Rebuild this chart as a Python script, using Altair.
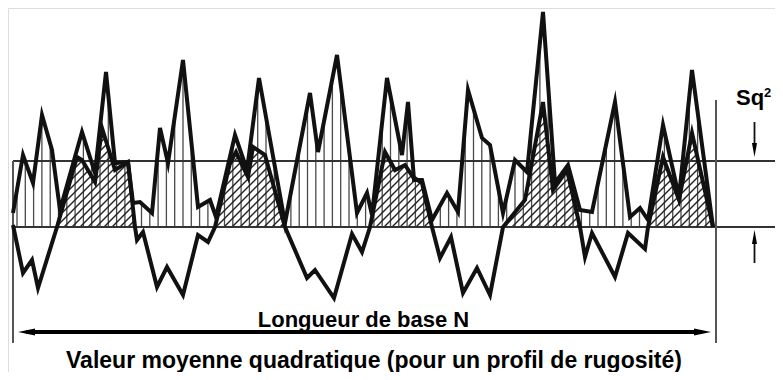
import altair as alt
import numpy as np
import pandas as pd

# Upper curve (squared profile): position along base length, height above mean line
u_x = [13, 23, 33, 42, 52, 60, 82, 95, 106, 115, 128, 133, 140, 152, 160, 168, 183, 198, 210, 216,
       235, 247, 259, 285, 310, 318, 337, 357, 367, 372, 387, 402, 408, 414, 422, 432, 447, 458, 468,
       482, 490, 503, 515, 527, 543, 555, 568, 580, 592, 615, 630, 640, 648, 663, 679, 692, 713]
u_z = [14, 72, 44, 112, 77, 17, 95, 54, 155, 64, 65, 24, 25, 14, 99, 64, 167, 20, 27, 10,
       92, 57, 149, 4, 134, 75, 172, 14, 34, 12, 149, 72, 125, 47, 47, 7, 34, 15, 137,
       89, 82, 14, 67, 55, 215, 44, 62, 17, 15, 125, 10, 19, 7, 102, 30, 157, 0]

# Roughness profile
p_x = [13, 23, 32, 38, 57, 77, 82, 95, 102, 115, 128, 135, 137, 143, 157, 167, 183, 198, 208, 215,
       230, 236, 243, 248, 253, 265, 285, 307, 315, 334, 352, 362, 370, 385, 395, 405, 413, 422, 432,
       440, 451, 463, 477, 490, 503, 525, 543, 553, 567, 580, 585, 592, 615, 628, 645, 648, 663, 679,
       692, 713]
p_z = [2, -46, -33, -61, 0, 70, 67, 45, 99, 57, 65, 0, -13, -5, -60, -40, -68, -8, -15, 0,
       64, 75, 60, 50, 80, 72, 0, -51, -43, -71, -7, -25, 0, 75, 57, 62, 50, 44, 0,
       -31, -10, -66, -41, -68, 0, 27, 125, 37, 57, 0, -30, -6, -50, -6, -22, 0, 70, 27,
       94, 0]

sq2_level = 66          # Sq² line height
base_start, base_end = 13, 716

XS = alt.Scale(domain=[8, 775], nice=False, zero=False)
YS = alt.Scale(domain=[-145, 219], nice=False, zero=False)


def X(f="x"):
    return alt.X(f"{f}:Q", scale=XS, axis=None)


def Y(f="z"):
    return alt.Y(f"{f}:Q", scale=YS, axis=None)


upper = pd.DataFrame({"x": u_x, "z": u_z})
prof = pd.DataFrame({"x": p_x, "z": p_z})

# vertical hatching under the upper curve
vx = np.arange(17, 712, 8.3)
vt = np.interp(vx, u_x, u_z)
vert = pd.DataFrame({"x": vx, "z": 0.0, "z2": vt})

# diagonal hatching of the positive parts of the profile
xp = np.arange(13, 713.01, 0.25)
zp = np.interp(xp, p_x, p_z)
segs = []
for c in np.arange(-200, 713, 8.0):
    h = xp - c
    m = (h >= 0) & (h <= zp) & (zp > 0)
    idx = np.flatnonzero(np.diff(np.concatenate([[0], m.astype(int), [0]])))
    for s, e in zip(idx[::2], idx[1::2]):
        if e - s >= 2:
            segs.append((xp[s], h[s], xp[e - 1], h[e - 1]))
hatch = pd.DataFrame(segs, columns=["x", "z", "x2", "z2"])

hlines = pd.DataFrame({"x": [base_start, base_start], "x2": [775, 775], "z": [sq2_level, 0]})
vlines = pd.DataFrame({"x": [base_start, base_end], "z": [sq2_level, 127], "z2": [-116, -116]})

arrow_y = -105
hshaft = pd.DataFrame({"x": [26], "x2": [702], "z": [arrow_y]})
vshaft = pd.DataFrame({"x": [754.5, 754.5], "z": [105, -16], "z2": [84, -36]})

heads = pd.DataFrame({
    "x": [26.5, 702.5, 754.5, 754.5],
    "z": [arrow_y, arrow_y, 77, -10],
    "shape": ["M -1 0 L 1 -0.42 L 1 0.42 Z", "M 1 0 L -1 -0.42 L -1 0.42 Z",
              "M 0 1 L -0.36 -1 L 0.36 -1 Z", "M 0 -1 L -0.36 1 L 0.36 1 Z"],
    "size": [289, 289, 196, 196],
})

texts = pd.DataFrame({"x": [363.5], "z": [-100], "label": ["Longueur de base N"]})
texts2 = pd.DataFrame({"x": [374], "z": [-141],
                       "label": ["Valeur moyenne quadratique (pour un profil de rugosité)"]})
sq = pd.DataFrame({"x": [736], "z": [122], "label": ["Sq"]})
sq_exp = pd.DataFrame({"x": [764], "z": [130], "label": ["2"]})

layers = [
    alt.Chart(vert).mark_rule(color="#4a4a4a", strokeWidth=1.3).encode(x=X(), y=Y(), y2="z2:Q"),
    alt.Chart(hatch).mark_rule(color="#222", strokeWidth=1.4).encode(x=X(), y=Y(), x2="x2:Q", y2="z2:Q"),
    alt.Chart(hlines).mark_rule(color="#333", strokeWidth=1.8).encode(x=X(), x2="x2:Q", y=Y()),
    alt.Chart(vlines).mark_rule(color="#555", strokeWidth=2).encode(x=X(), y=Y(), y2="z2:Q"),
    alt.Chart(upper).mark_line(color="#111", strokeWidth=4, strokeJoin="miter", strokeMiterLimit=6).encode(x=X(), y=Y()),
    alt.Chart(prof).mark_line(color="#111", strokeWidth=4, strokeJoin="miter", strokeMiterLimit=6).encode(x=X(), y=Y()),
    alt.Chart(hshaft).mark_rule(color="#000", strokeWidth=4).encode(x=X(), x2="x2:Q", y=Y()),
    alt.Chart(vshaft).mark_rule(color="#111", strokeWidth=1.8).encode(x=X(), y=Y(), y2="z2:Q"),
    alt.Chart(heads).mark_point(filled=True, color="#000", opacity=1, strokeWidth=0).encode(
        x=X(), y=Y(), shape=alt.Shape("shape:N", scale=None, legend=None),
        size=alt.Size("size:Q", scale=None, legend=None)),
    alt.Chart(texts).mark_text(font="Liberation Sans", fontWeight="bold", fontSize=22,
                               align="center", baseline="alphabetic", color="#000").encode(
        x=X(), y=Y(), text="label:N"),
    alt.Chart(texts2).mark_text(font="Liberation Sans", fontWeight="bold", fontSize=23,
                                align="center", baseline="alphabetic", color="#000").encode(
        x=X(), y=Y(), text="label:N"),
    alt.Chart(sq).mark_text(font="Liberation Sans", fontWeight="bold", fontSize=22,
                            align="left", baseline="alphabetic", color="#000").encode(
        x=X(), y=Y(), text="label:N"),
    alt.Chart(sq_exp).mark_text(font="Liberation Sans", fontWeight="bold", fontSize=13,
                                align="left", baseline="alphabetic", color="#000").encode(
        x=X(), y=Y(), text="label:N"),
]

chart = alt.layer(*layers).properties(
    width=767, height=364, autosize=alt.AutoSizeParams(type="none"), padding=0
).configure_view(stroke=None).configure(background="white")

chart.save("out.html", embed_options={"renderer": "svg", "actions": False})
